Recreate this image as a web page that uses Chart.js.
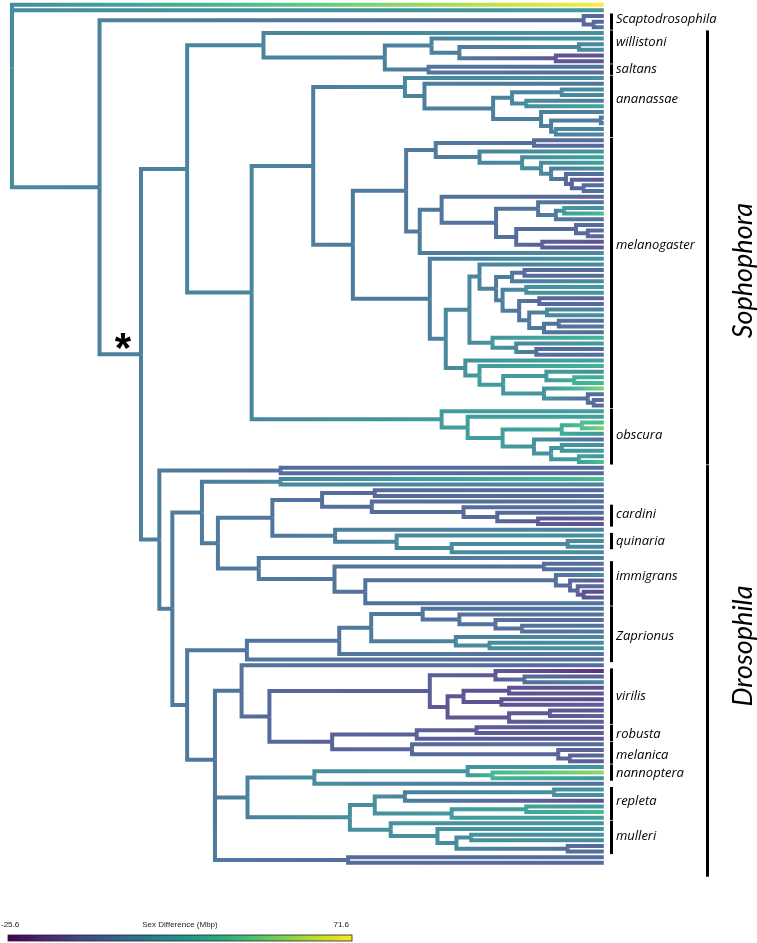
<!DOCTYPE html>
<html>
<head>
<meta charset="utf-8">
<style>
  html, body { margin: 0; padding: 0; background: #fff; }
  canvas { display: block; }
</style>
<script src="https://cdn.jsdelivr.net/npm/chart.js@4.4.1/dist/chart.umd.min.js"></script>
</head>
<body>
<canvas id="tree" width="757" height="943"></canvas>
<script>
// Tree pieces. Tip = its value (Mbp). Internal node = (children)depth:value, depth 0 = root, 100 = tips.
// {name} pulls in another named piece, * marks the node with the asterisk.
const backbone = "(71.6,20,({scapto},({sophophora},{drosophila})21.8:9*)14.8:9)0:14";
const scapto = "(-3,(-2,5)98.3:-1)96.6:-2";
const sophophora = "({willistoni},(({ananassae},{melanogaster})50.9:8,{obscura})40.5:11)29.6:10";
const willistoni = "(16,((18,((12,14)95.8:12,(-10,-8)91.9:-9)75.6:6)70.9:10,{saltans})63.0:9)42.5:10";
const saltans = "(2,0)70.4:3";
const ananassae = "(16,(4,(((14,10)92.9:12,(6,26)86.9:15)84.5:10,(8,((6,8)99.5:7,(10,12)91.9:10)91.1:8)89.4:8)81.3:8)69.7:8)66.4:12";
const melanogaster = "({melA},{melB})57.6:6";
const melA = "(((0,-2)88.2:0,(18,(24,(22,(16,(0,(-8,(0,2)96.6:0)94.6:-4)93.6:0)91.1:8)89.4:14)86.2:14)79.0:10)71.6:6,((-3,((2,((14,36)93.3:20,0)91.9:8)88.9:4,((0,(-2,-4)97.3:-2)95.3:-1,(-10,-8)89.6:-6)85.2:0)81.8:2)72.6:3,14)68.9:6)66.6:5";
const melB = "(18,(({melC},(34,(20,(0,2)88.6:0)85.2:12)81.2:18)77.3:12,{melD})73.3:12)70.6:7";
const melC = "(14,(((-2,0)86.6:0,14)84.5:6,((20,18)86.9:16,((-4,-2)89.1:-2,((10,16)90.4:12,((0,4)92.4:2,0)89.9:3)87.4:6)85.7:4)82.9:8)81.8:8)79.0:10";
const melD = "(24,(32,((16,(30,36)95.0:30)90.3:20,(50,(0,(-2,0)98.3:0)97.3:0)89.9:18)83.0:20)79.0:21)76.6:16";
const obscura = "(22,(24,(((36,48)96.3:38,18)92.9:28,(0,((16,20)92.9:18,(18,38)95.8:24)91.1:18)88.2:16)82.9:22)77.0:22)72.6:21";
const drosophila = "((0,-2)45.4:0,(((36,10)45.4:12,({cardQuin},{immigrans})34.8:5)32.1:6,({zaprionus},({virilisGroup},{repletaGroup})34.3:4)29.6:5)27.1:6)24.9:6";
const cardQuin = "(((-2,0)61.3:-1,(2,(0,(2,(-8,-10)88.9:-8)82.0:-2)76.3:0)60.8:0)52.4:1,(10,(16,((14,12)93.9:13,14)74.3:13)65.0:12)54.6:8)44.0:4";
const immigrans = "(8,((0,2)89.9:1,((14,(-8,(0,(-14,-6)96.6:-10)95.6:-4)94.3:-2)91.9:2,4)59.7:2)54.5:3)41.7:5";
const zaprionus = "((((4,(2,(0,(2,4)86.2:2)81.7:2)75.6:2)69.4:3,(12,(14,16)80.7:14)75.0:10)60.7:6,2)55.3:4,0)39.7:4";
const virilisGroup = "(0,({virilis},{robMel})43.5:-2)38.8:2";
const virilis = "((-22,(-6,10)86.6:0)81.7:-8,(((-12,-8)84.0:-10,(-14,-6)82.7:-10)76.3:-10,((-10,-4)90.9:-8,-6)84.0:-8)73.6:-9)70.6:-6";
const robMel = "(((-8,-6)78.5:-7,-8)68.4:-6,(0,(-4,(-2,-6)94.3:-4)92.3:-3)67.6:-2)54.1:-4";
const repletaGroup = "((((18,(52,18)81.2:34)77.0:18,2)51.1:14,{repMul})39.8:9,(0,-2)56.8:0)34.3:5";
const repMul = "((((18,16)91.6:16,-12)66.4:8,((20,36)86.9:24,22)74.3:20)61.3:16,(18,(18,((16,14)77.6:16,(-2,0)93.9:0)75.1:12)71.9:16)64.0:16)57.1:15";

// clade brackets, by tip index (0 = top tip)
const cladeNames = ["Scaptodrosophila", "willistoni", "saltans", "ananassae", "melanogaster", "obscura",
  "cardini", "quinaria", "immigrans", "Zaprionus", "virilis", "robusta", "melanica", "nannoptera", "repleta", "mulleri"];
const cladeFirst = [2, 5, 11, 13, 24, 72, 89, 94, 99, 107, 118, 128, 131, 135, 139, 145];
const cladeLast = [4, 10, 12, 23, 71, 81, 92, 96, 106, 116, 127, 130, 134, 137, 144, 150];
const cladeLabelAt = [2.5, 6.6, 11.5, 16.8, 42.7, 76.2, 90.2, 95, 101.3, 111.9, 122.5, 129.2, 132.9, 136.2, 141.1, 147.3];

const groupNames = ["Sophophora", "Drosophila"];
const groupFirst = [5, 82];
const groupLast = [81, 154];
const groupLabelAt = [47.1, 113.6];

const colorTicks = [-25.6, 71.6];
const colorTitle = "Sex Difference (Mbp)";

// ---- drawing ----
const parts = { scapto, sophophora, willistoni, saltans, ananassae, melanogaster, melA, melB, melC, melD,
  obscura, drosophila, cardQuin, immigrans, zaprionus, virilisGroup, virilis, robMel, repletaGroup, repMul };

function expand(s) {
  return s.replace(/\{(\w+)\}/g, (m, k) => expand(parts[k]));
}

function parseTree(str) {
  let pos = 0;
  function num() {
    const m = /^-?\d+(\.\d+)?/.exec(str.slice(pos));
    pos += m[0].length;
    return parseFloat(m[0]);
  }
  function node() {
    if (str[pos] === '(') {
      pos++;
      const children = [node()];
      while (str[pos] === ',') { pos++; children.push(node()); }
      pos++;
      const depth = num();
      pos++;
      const value = num();
      let star = false;
      if (str[pos] === '*') { star = true; pos++; }
      return { children, depth, value, star };
    }
    return { children: [], depth: 100, value: num() };
  }
  return node();
}

const root = parseTree(expand(backbone));
const nodes = [];
let tipCount = 0;
function layout(n, parent) {
  n.parent = parent;
  if (n.children.length === 0) {
    n.y = tipCount++;
  } else {
    n.children.forEach(c => layout(c, n));
    n.y = n.children.reduce((s, c) => s + c.y, 0) / n.children.length;
  }
  nodes.push(n);
}
layout(root, null);

const viridisStops = [
  [68, 1, 84], [72, 36, 117], [65, 68, 135], [53, 95, 141], [42, 120, 142], [33, 145, 140],
  [34, 168, 132], [68, 191, 112], [122, 209, 81], [189, 223, 38], [253, 231, 37]
];
function viridis(t, wash) {
  t = Math.max(0, Math.min(1, t));
  const f = t * 10;
  const i = Math.min(9, Math.floor(f));
  const u = f - i;
  const a = viridisStops[i], b = viridisStops[i + 1];
  const w = wash || 0;
  const c = [0, 1, 2].map(k => Math.round((a[k] + (b[k] - a[k]) * u) * (1 - w) + 255 * w));
  return 'rgb(' + c.join(',') + ')';
}
function valueColor(v) {
  return viridis((v - colorTicks[0]) / (colorTicks[1] - colorTicks[0]), 0.14);
}

function branchColor(c) {
  const ds = c.dataset;
  const chart = c.chart;
  const xs = chart.scales && chart.scales.x;
  if (!ds) return valueColor(0);
  if (!xs) return valueColor(ds.to);
  const x0 = xs.getPixelForValue(ds.x0), x1 = xs.getPixelForValue(ds.x1);
  if (!isFinite(x0) || !isFinite(x1) || x0 === x1) return valueColor(ds.to);
  const g = chart.ctx.createLinearGradient(x0, 0, x1, 0);
  for (let k = 0; k <= 6; k++) {
    const t = k / 6;
    g.addColorStop(t, valueColor(ds.from + (ds.to - ds.from) * t));
  }
  return g;
}

const datasets = nodes.filter(n => n.parent).map(n => ({
  data: [
    { x: n.parent.depth, y: n.parent.y },
    { x: n.parent.depth, y: n.y },
    { x: n.depth, y: n.y }
  ],
  from: n.parent.value,
  to: n.value,
  x0: n.parent.depth,
  x1: n.depth,
  showLine: true,
  pointRadius: 0,
  borderWidth: 4,
  borderColor: branchColor,
  borderJoinStyle: 'miter',
  borderCapStyle: 'butt',
  fill: false,
  tension: 0
}));

// pixel layout of the picture
const W = 757, H = 943;
const rootPx = 10, tipPx = 605;
const tipTopPx = 2.7, tipGapPx = 5.67;
const xSpan = 100 * W / (tipPx - rootPx);
const xMin = -rootPx * 100 / (tipPx - rootPx);
const yMin = -tipTopPx / tipGapPx;
const ySpan = H / tipGapPx;

const annotations = {
  id: 'annotations',
  afterDatasetsDraw(chart) {
    const ctx = chart.ctx;
    const ys = chart.scales.y, xs = chart.scales.x;
    ctx.save();
    ctx.fillStyle = '#000';
    ctx.textBaseline = 'middle';
    ctx.textAlign = 'left';
    ctx.font = 'italic 13px "Open Sans"';
    cladeNames.forEach((name, i) => {
      const y1 = ys.getPixelForValue(cladeFirst[i]) - 2.5;
      const y2 = ys.getPixelForValue(cladeLast[i]) + 2.5;
      ctx.fillRect(610, y1, 3, y2 - y1);
      ctx.fillText(name, 616, ys.getPixelForValue(cladeLabelAt[i]));
    });
    ctx.font = 'italic 27px Lato';
    ctx.textAlign = 'center';
    groupNames.forEach((name, i) => {
      const y1 = ys.getPixelForValue(groupFirst[i]) - 2.5;
      const y2 = ys.getPixelForValue(groupLast[i]) + 2.5;
      ctx.fillRect(706, y1, 3, y2 - y1);
      ctx.save();
      ctx.translate(743, ys.getPixelForValue(groupLabelAt[i]));
      ctx.rotate(-Math.PI / 2);
      ctx.fillText(name, 0, 0);
      ctx.restore();
    });
    // asterisk beside its node
    const star = nodes.find(n => n.star);
    if (star) {
      ctx.font = 'bold 42px "Liberation Sans"';
      ctx.textAlign = 'center';
      ctx.textBaseline = 'alphabetic';
      ctx.fillText('*', xs.getPixelForValue(star.depth) - 18, ys.getPixelForValue(star.y) + 8);
    }
    // colour bar
    const bx = 8, by = 935, bw = 344, bh = 6;
    const g = ctx.createLinearGradient(bx, 0, bx + bw, 0);
    for (let k = 0; k <= 10; k++) g.addColorStop(k / 10, viridis(k / 10));
    ctx.fillStyle = g;
    ctx.fillRect(bx, by, bw, bh);
    ctx.strokeStyle = '#222';
    ctx.lineWidth = 0.8;
    ctx.strokeRect(bx, by, bw, bh);
    ctx.fillStyle = '#222';
    ctx.font = '8px "Liberation Sans"';
    ctx.textBaseline = 'middle';
    ctx.textAlign = 'left';
    ctx.fillText(String(colorTicks[0]), 1, 925);
    ctx.textAlign = 'right';
    ctx.fillText(String(colorTicks[1]), 349, 925);
    ctx.textAlign = 'center';
    ctx.fillText(colorTitle, 180, 925);
    ctx.restore();
  }
};

const chart = new Chart(document.getElementById('tree'), {
  type: 'scatter',
  data: { datasets: datasets },
  options: {
    responsive: false,
    animation: false,
    devicePixelRatio: 1,
    layout: { padding: 0 },
    scales: {
      x: { type: 'linear', min: xMin, max: xMin + xSpan, display: false },
      y: { type: 'linear', min: yMin, max: yMin + ySpan, reverse: true, display: false }
    },
    plugins: { legend: { display: false }, tooltip: { enabled: false } },
    events: []
  },
  plugins: [annotations]
});
// second pass so the branch gradients see laid-out scales
chart.update();
</script>
</body>
</html>
